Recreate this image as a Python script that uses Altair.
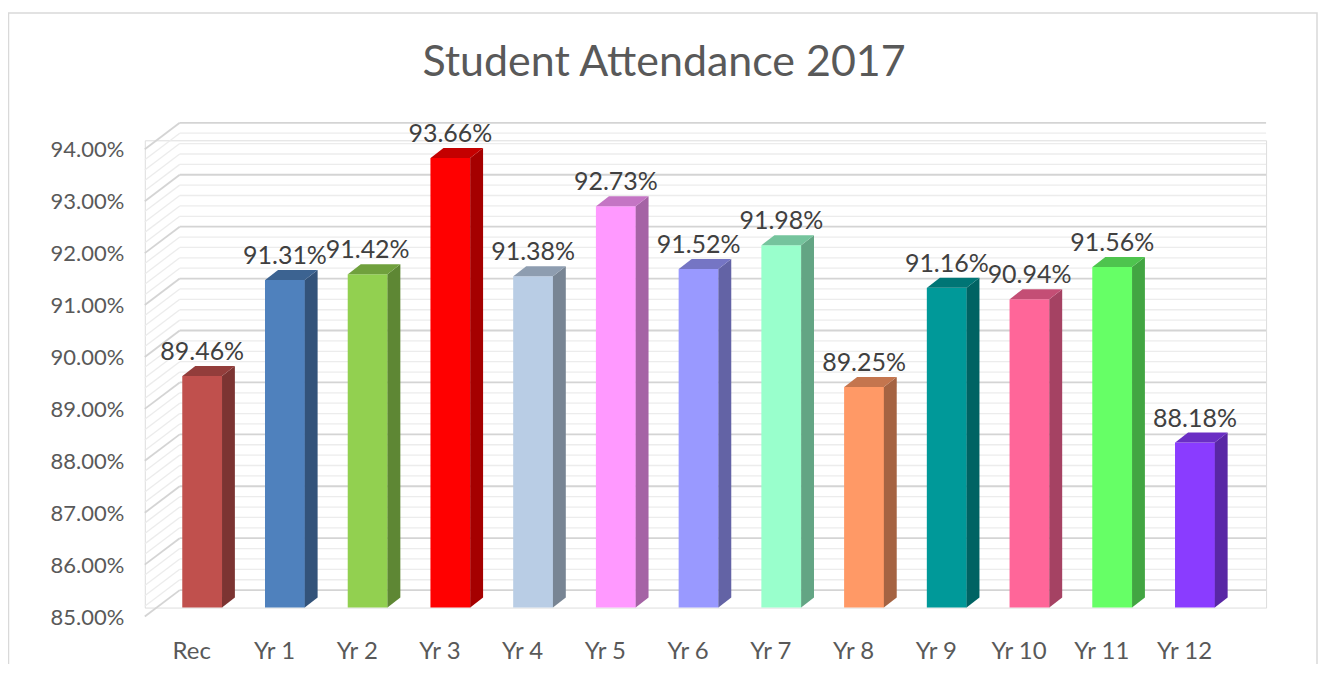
import json
import altair as alt
import numpy as np
import pandas as pd

# ---------------- data ----------------
categories = ["Rec", "Yr 1", "Yr 2", "Yr 3", "Yr 4", "Yr 5", "Yr 6",
              "Yr 7", "Yr 8", "Yr 9", "Yr 10", "Yr 11", "Yr 12"]
attendance = [89.46, 91.31, 91.42, 93.66, 91.38, 92.73, 91.52,
              91.98, 89.25, 91.16, 90.94, 91.56, 88.18]
front_colors = ["#c0504d", "#4f81bd", "#92d050", "#ff0000", "#b9cde5", "#ff99ff",
                "#9999ff", "#99ffcc", "#ff9966", "#009999", "#ff6699", "#66ff66", "#8a3cff"]
y_ticks = [85, 86, 87, 88, 89, 90, 91, 92, 93, 94]
grid_levels = [round(v, 1) for v in np.arange(85, 94.0001, 0.2)]
title_text = "Student Attendance 2017"

# ---------------- layout / style ----------------
W, H = 1123, 468
X_DOMAIN = [-0.634, 12.799]
Y_DOMAIN = [85, 94]
PX_PER_CAT = W / (X_DOMAIN[1] - X_DOMAIN[0])
PX_PER_PCT = H / (Y_DOMAIN[1] - Y_DOMAIN[0])
BAR_W, DEPTH_X, DEPTH_Y = 40, 13, 10
WALL_X, WALL_BACK, WALL_FRONT = 35, -17.5, 9
FONT = "Lato"


def shade(hx, f):
    r, g, b = int(hx[1:3], 16), int(hx[3:5], 16), int(hx[5:7], 16)
    return "#%02x%02x%02x" % (int(r * f), int(g * f), int(b * f))


hw = BAR_W / 2 / PX_PER_CAT
dx = DEPTH_X / PX_PER_CAT
dy = DEPTH_Y / PX_PER_PCT
base = Y_DOMAIN[0]

bars = pd.DataFrame({
    "idx": list(range(len(categories))),
    "cat": categories,
    "value": attendance,
    "base": base,
    "col": front_colors,
    "label": ["%.2f%%" % v for v in attendance],
})

rows = []
for i, (v, c) in enumerate(zip(attendance, front_colors)):
    xl, xr = i - hw, i + hw
    side = shade(c, 0.65)
    top = shade(c, 0.77)
    # side face (parallelogram on the right of the bar)
    rows.append(dict(face="s%d" % i, fx=xr, flo=base, fhi=v, col=side))
    rows.append(dict(face="s%d" % i, fx=xr + dx, flo=base + dy, fhi=v + dy, col=side))
    # top face (parallelogram above the bar)
    rows.append(dict(face="t%d" % i, fx=xl, flo=v, fhi=v, col=top))
    rows.append(dict(face="t%d" % i, fx=xl + dx, flo=v, fhi=v + dy, col=top))
    rows.append(dict(face="t%d" % i, fx=xr, flo=v, fhi=v + dy, col=top))
    rows.append(dict(face="t%d" % i, fx=xr + dx, flo=v + dy, fhi=v + dy, col=top))
faces = pd.DataFrame(rows)

grid = pd.DataFrame({
    "level": grid_levels,
    "major": [abs(v - round(v)) < 1e-6 for v in grid_levels],
})

xscale = alt.Scale(domain=X_DOMAIN, nice=False, zero=False)
yscale = alt.Scale(domain=Y_DOMAIN, nice=False, zero=False)

xaxis = alt.Axis(values=list(range(len(categories))),
                 labelExpr=json.dumps(categories) + "[datum.value]",
                 labelOffset=-11, labelPadding=32, ticks=False, tickSize=0,
                 domain=False, grid=False, labelFlush=False, labelOverlap=False,
                 labelAngle=0, labelFont=FONT, labelFontSize=24,
                 labelColor="#595959", title=None)
yaxis = alt.Axis(values=y_ticks,
                 labelExpr="format(datum.value, '.2f') + '%'",
                 labelOffset=9.5, labelPadding=21, ticks=False, tickSize=0,
                 domain=False, grid=False, labelFlush=False, labelOverlap=False,
                 labelFont=FONT, labelFontSize=22, labelColor="#595959", title=None)

gcolor = alt.condition("datum.major", alt.value("#d4d4d4"), alt.value("#ececec"))
gwidth = alt.condition("datum.major", alt.value(1.8), alt.value(1.3))

back_wall = alt.Chart(grid).mark_rule(yOffset=WALL_BACK).encode(
    x=alt.value(WALL_X), x2=alt.value(W),
    y=alt.Y("level:Q", scale=yscale, axis=yaxis),
    color=gcolor, strokeWidth=gwidth,
)
side_wall = alt.Chart(grid).mark_rule(yOffset=WALL_FRONT, y2Offset=WALL_BACK).encode(
    x=alt.value(0), x2=alt.value(WALL_X),
    y=alt.Y("level:Q", scale=yscale, axis=yaxis),
    y2=alt.Y2("level:Q"),
    color=gcolor, strokeWidth=gwidth,
)

front = alt.Chart(bars).mark_bar(size=BAR_W).encode(
    x=alt.X("idx:Q", scale=xscale, axis=xaxis),
    y=alt.Y("value:Q", scale=yscale, axis=yaxis, stack=None),
    y2=alt.Y2("base:Q"),
    color=alt.Color("col:N", scale=None),
)

faces_layer = alt.Chart(faces).mark_area(opacity=1).encode(
    x=alt.X("fx:Q", scale=xscale, axis=xaxis),
    y=alt.Y("flo:Q", scale=yscale, axis=yaxis, stack=None),
    y2=alt.Y2("fhi:Q"),
    detail="face:N",
    color=alt.Color("col:N", scale=None),
)

labels = alt.Chart(bars).mark_text(dy=-16, baseline="alphabetic", font=FONT, fontSize=25,
                                   color="#404040").encode(
    x=alt.X("idx:Q", scale=xscale, axis=xaxis),
    y=alt.Y("value:Q", scale=yscale, axis=yaxis),
    text="label:N",
)

one = pd.DataFrame({"t": [title_text]})
title = alt.Chart(one).mark_text(font=FONT, fontSize=43, color="#595959",
                                 align="center", baseline="alphabetic").encode(
    x=alt.value(520), y=alt.value(-64), text="t:N",
)
frame = alt.Chart(one).mark_rect(fill="white", fillOpacity=0, stroke="#d9d9d9",
                                 strokeWidth=1.5).encode(
    x=alt.value(-136.5), x2=alt.value(1174), y=alt.value(-127.5), y2=alt.value(600),
)

chart = alt.layer(frame, back_wall, side_wall, front, faces_layer, labels, title).properties(
    width=W, height=H,
    autosize=alt.AutoSizeParams(type="none"),
    padding={"left": 137, "top": 132, "right": 52, "bottom": 56},
).configure_view(stroke=None).configure(background="white")

chart.save("out.html", embed_options={"renderer": "svg", "actions": False})
